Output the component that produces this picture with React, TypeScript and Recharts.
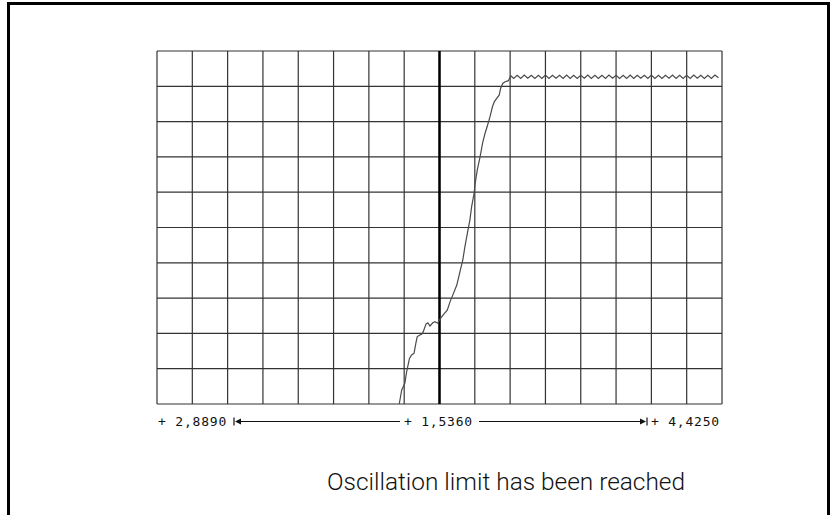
import { LineChart, Line, XAxis, YAxis, CartesianGrid, ReferenceLine } from "recharts";

// trace, in grid divisions (16 x 10)
const riseX = [
  6.86, 6.93, 7.02, 7.07, 7.15, 7.21, 7.28, 7.33, 7.37, 7.5, 7.54, 7.62, 7.67, 7.73, 7.81, 7.87,
  7.95, 8.01, 8.06, 8.14, 8.22, 8.3, 8.39, 8.49, 8.58, 8.66, 8.72, 8.79, 8.86, 8.91, 8.98, 9.01,
  9.07, 9.15, 9.22, 9.29, 9.35, 9.43, 9.5, 9.55, 9.62, 9.69, 9.73, 9.79, 9.86, 9.95, 10.02,
];
const riseY = [
  0, 0.4, 0.59, 0.92, 1.29, 1.39, 1.44, 1.72, 1.91, 1.98, 2.05, 2.27, 2.3, 2.21, 2.3, 2.33,
  2.29, 2.4, 2.47, 2.57, 2.66, 2.9, 3.12, 3.37, 3.75, 4.08, 4.46, 4.84, 5.21, 5.59, 5.97, 6.25,
  6.63, 7.01, 7.39, 7.67, 7.86, 8.14, 8.42, 8.56, 8.66, 8.75, 8.94, 9.08, 9.13, 9.16, 9.3,
];

// oscillation at the limit
const wobbleX = [
  10.1, 10.2, 10.3, 10.4, 10.5, 10.6, 10.7, 10.8, 10.9, 11.0, 11.1, 11.2, 11.3, 11.4, 11.5,
  11.6, 11.7, 11.8, 11.9, 12.0, 12.1, 12.2, 12.3, 12.4, 12.5, 12.6, 12.7, 12.8, 12.9, 13.0,
  13.1, 13.2, 13.3, 13.4, 13.5, 13.6, 13.7, 13.8, 13.9, 14.0, 14.1, 14.2, 14.3, 14.4, 14.5,
  14.6, 14.7, 14.8, 14.9, 15.0, 15.1, 15.2, 15.3, 15.4, 15.5, 15.6, 15.7, 15.8, 15.9,
];
const wobbleY = [
  9.22, 9.31, 9.22, 9.32, 9.23, 9.31, 9.22, 9.31, 9.22, 9.32, 9.22, 9.31, 9.23, 9.31, 9.22,
  9.32, 9.22, 9.31, 9.22, 9.31, 9.23, 9.32, 9.22, 9.31, 9.22, 9.31, 9.22, 9.32, 9.23, 9.31,
  9.22, 9.31, 9.22, 9.32, 9.22, 9.31, 9.23, 9.31, 9.22, 9.32, 9.22, 9.31, 9.22, 9.31, 9.23,
  9.32, 9.22, 9.31, 9.22, 9.31, 9.22, 9.32, 9.23, 9.31, 9.22, 9.31, 9.22, 9.32, 9.24,
];

const xDivisions = [0, 1, 2, 3, 4, 5, 6, 7, 8, 9, 10, 11, 12, 13, 14, 15, 16];
const yDivisions = [0, 1, 2, 3, 4, 5, 6, 7, 8, 9, 10];
const tickLabels: Record<number, string> = { 0: "+ 2,8890", 8: "+ 1,5360", 16: "+ 4,4250" };
const message = "Oscillation limit has been reached";

const data = [
  ...riseX.map((x, i) => ({ x, y: riseY[i] })),
  ...wobbleX.map((x, i) => ({ x, y: wobbleY[i] })),
];

const labelStyle = {
  fontFamily: "'DejaVu Sans Mono', monospace",
  fontSize: 13,
  letterSpacing: 0.8,
  fill: "#111",
};

function RangeTick(props: any) {
  const { x, y, payload } = props;
  const label = tickLabels[payload.value];
  if (!label) return <g />;
  const ty = y + 14;
  const ly = ty - 4.5;
  if (payload.value === 0) {
    return (
      <g>
        <text x={x + 1} y={ty} textAnchor="start" {...labelStyle}>{label}</text>
        <line x1={x + 77} x2={x + 77} y1={ly - 4} y2={ly + 4} stroke="#111" strokeWidth={1.2} />
        <path d={`M${x + 78},${ly} L${x + 84},${ly - 3} L${x + 84},${ly + 3} Z`} fill="#111" />
        <line x1={x + 84} x2={x + 243} y1={ly} y2={ly} stroke="#111" strokeWidth={1} />
      </g>
    );
  }
  if (payload.value === 16) {
    return (
      <g>
        <text x={x - 2} y={ty} textAnchor="end" {...labelStyle}>{label}</text>
        <line x1={x - 243} x2={x - 82} y1={ly} y2={ly} stroke="#111" strokeWidth={1} />
        <path d={`M${x - 76},${ly} L${x - 82},${ly - 3} L${x - 82},${ly + 3} Z`} fill="#111" />
        <line x1={x - 75} x2={x - 75} y1={ly - 4} y2={ly + 4} stroke="#111" strokeWidth={1.2} />
      </g>
    );
  }
  return (
    <text x={x - 1} y={ty} textAnchor="middle" {...labelStyle}>{label}</text>
  );
}

export default function App() {
  return (
    <div style={{ position: "absolute", left: 0, top: 0, width: 832, height: 515, background: "#fff", overflow: "hidden" }}>
      <div
        style={{
          position: "absolute",
          left: 7,
          top: 2,
          width: 823,
          height: 530,
          boxSizing: "border-box",
          border: "3px solid #000",
          borderBottom: "none",
        }}
      />
      <div style={{ position: "absolute", left: 0, top: 0 }}>
        <LineChart width={832} height={515} data={data} margin={{ top: 51, right: 110, bottom: 81, left: 157 }}>
          <CartesianGrid stroke="#333" strokeWidth={1.2} />
          <XAxis
            dataKey="x"
            type="number"
            domain={[0, 16]}
            ticks={xDivisions}
            interval={0}
            axisLine={false}
            tickLine={false}
            height={30}
            tick={<RangeTick />}
          />
          <YAxis type="number" domain={[0, 10]} ticks={yDivisions} hide />
          <ReferenceLine x={8} stroke="#000" strokeWidth={2.5} />
          <Line
            dataKey="y"
            type="linear"
            stroke="#4a4a4a"
            strokeWidth={1.2}
            dot={false}
            isAnimationActive={false}
          />
        </LineChart>
      </div>
      <svg style={{ position: "absolute", left: 0, top: 0 }} width={832} height={515}>
        <text
          x={327}
          y={490}
          textLength={358}
          lengthAdjust="spacingAndGlyphs"
          fontFamily="Roboto, 'Liberation Sans', sans-serif"
          fontWeight={300}
          fontSize={24}
          fill="#111"
        >
          {message}
        </text>
      </svg>
    </div>
  );
}
